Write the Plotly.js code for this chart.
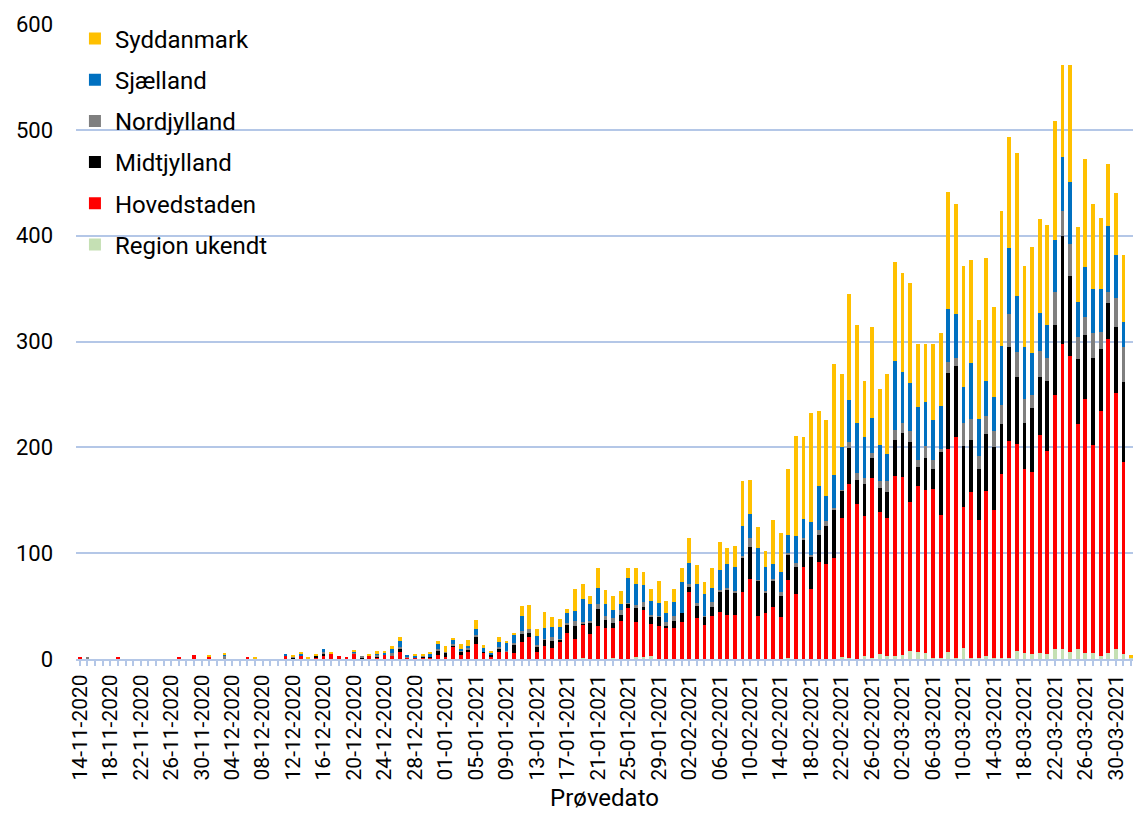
<!DOCTYPE html>
<html>
<head>
<meta charset="utf-8">
<script src="https://cdn.plot.ly/plotly-3.0.1.min.js"></script>
<style>html,body{margin:0;padding:0;background:#fff;}#chart{width:1133px;height:816px;}</style>
</head>
<body>
<div id="chart"></div>
<script>
const dates = [
"14-11-2020","15-11-2020","16-11-2020","17-11-2020","18-11-2020","19-11-2020","20-11-2020","21-11-2020","22-11-2020","23-11-2020",
"24-11-2020","25-11-2020","26-11-2020","27-11-2020","28-11-2020","29-11-2020","30-11-2020",
"01-12-2020","02-12-2020","03-12-2020","04-12-2020","05-12-2020","06-12-2020","07-12-2020","08-12-2020","09-12-2020","10-12-2020",
"11-12-2020","12-12-2020","13-12-2020","14-12-2020","15-12-2020","16-12-2020","17-12-2020","18-12-2020","19-12-2020","20-12-2020",
"21-12-2020","22-12-2020","23-12-2020","24-12-2020","25-12-2020","26-12-2020","27-12-2020","28-12-2020","29-12-2020","30-12-2020","31-12-2020",
"01-01-2021","02-01-2021","03-01-2021","04-01-2021","05-01-2021","06-01-2021","07-01-2021","08-01-2021","09-01-2021","10-01-2021",
"11-01-2021","12-01-2021","13-01-2021","14-01-2021","15-01-2021","16-01-2021","17-01-2021","18-01-2021","19-01-2021","20-01-2021",
"21-01-2021","22-01-2021","23-01-2021","24-01-2021","25-01-2021","26-01-2021","27-01-2021","28-01-2021","29-01-2021","30-01-2021","31-01-2021",
"01-02-2021","02-02-2021","03-02-2021","04-02-2021","05-02-2021","06-02-2021","07-02-2021","08-02-2021","09-02-2021","10-02-2021",
"11-02-2021","12-02-2021","13-02-2021","14-02-2021","15-02-2021","16-02-2021","17-02-2021","18-02-2021","19-02-2021","20-02-2021",
"21-02-2021","22-02-2021","23-02-2021","24-02-2021","25-02-2021","26-02-2021","27-02-2021","28-02-2021",
"01-03-2021","02-03-2021","03-03-2021","04-03-2021","05-03-2021","06-03-2021","07-03-2021","08-03-2021","09-03-2021","10-03-2021",
"11-03-2021","12-03-2021","13-03-2021","14-03-2021","15-03-2021","16-03-2021","17-03-2021","18-03-2021","19-03-2021","20-03-2021",
"21-03-2021","22-03-2021","23-03-2021","24-03-2021","25-03-2021","26-03-2021","27-03-2021","28-03-2021","29-03-2021","30-03-2021","31-03-2021",
"01-04-2021"
];

const tickLabels = [
"14-11-2020","18-11-2020","22-11-2020","26-11-2020","30-11-2020","04-12-2020","08-12-2020","12-12-2020","16-12-2020",
"20-12-2020","24-12-2020","28-12-2020","01-01-2021","05-01-2021","09-01-2021","13-01-2021","17-01-2021","21-01-2021",
"25-01-2021","29-01-2021","02-02-2021","06-02-2021","10-02-2021","14-02-2021","18-02-2021","22-02-2021","26-02-2021",
"02-03-2021","06-03-2021","10-03-2021","14-03-2021","18-03-2021","22-03-2021","26-03-2021","30-03-2021"
];

const regionUkendt = [
0,0,0,0,0,0,0,0,0,0, 0,0,0,0,0,0,0,0,0,0, 0,0,0,0,0,0,0,0,0,0, 0,0,0,0,0,0,0,0,0,0,
0,0,0,0,0,0,0,0,0,0, 0,0,0,0,0,0,0,0,0,0, 0,0,0,0,0,0,1,0,0,0, 1,0,0,2,2,3,0,0,0,0,
0,0,0,0,0,0,0,0,0,0, 0,0,0,1,0,0,0,0,0,0, 2,1,0,3,1,5,3,3,4,8, 7,6,1,1,7,1,10,1,1,3,
1,1,1,8,6,5,6,5,9,9, 7,9,6,6,3,6,9,5,1
];
const hovedstaden = [
1,0,0,0,0,1,0,0,0,0, 0,0,0,1,0,4,0,2,0,0, 0,0,1,0,0,0,0,3,0,3, 0,1,3,5,3,1,5,0,3,1,
4,3,7,1,1,1,1,4,2,11, 4,7,14,6,2,7,7,6,16,21, 7,12,10,16,25,19,31,24,31,29, 28,36,48,33,44,30,31,29,29,35,
63,39,32,41,44,42,42,63,76,41, 43,49,40,74,61,87,66,92,90,95, 131,164,146,132,170,134,130,170,168,140,
156,154,160,135,191,209,134,157,130,156, 140,174,205,195,174,172,206,192,240,289, 279,213,240,196,231,296,242,181,0
];
const midtjylland = [
0,0,0,0,0,0,0,0,0,0, 0,0,0,0,0,0,0,0,0,0, 0,0,0,0,0,0,0,0,1,0, 0,2,2,0,0,0,0,1,0,1,
0,0,3,0,0,1,1,4,4,2, 3,2,7,1,2,3,0,8,8,4, 5,6,7,2,7,12,2,10,16,8, 5,6,4,13,3,7,9,2,7,8,
5,11,8,8,20,23,21,33,30,33, 20,25,20,23,26,26,31,25,36,46, 26,34,23,30,19,23,25,34,42,57,
18,30,19,60,72,67,57,49,49,54, 59,47,89,63,43,60,54,66,67,102, 76,61,60,82,59,34,63,76,0
];
const nordjylland = [
0,1,0,0,0,0,0,0,0,0, 0,0,0,0,0,0,0,0,0,3, 0,0,0,0,0,0,0,0,1,0, 0,0,2,0,0,0,1,1,0,2,
0,3,1,1,0,1,0,1,1,1, 1,1,2,0,0,1,1,1,2,3, 1,1,4,1,2,5,1,2,5,4, 5,4,1,3,5,2,1,4,5,0,
3,3,1,5,1,2,1,1,8,1, 1,2,3,2,4,1,1,5,4,2, 1,6,7,6,5,6,10,9,9,10, 7,11,8,2,11,7,22,20,12,17,
15,18,31,24,23,12,25,21,31,23, 30,21,17,24,16,11,27,33,0
];
const sjaelland = [
0,0,0,0,0,0,0,0,0,0, 0,0,0,0,0,0,0,0,0,1, 0,0,0,0,0,0,0,1,0,2, 0,0,2,0,0,0,1,0,0,1,
2,3,6,2,2,0,3,5,0,4, 1,2,5,3,2,5,8,8,15,0, 9,10,9,11,9,9,22,16,15,11, 7,6,24,20,16,13,12,8,13,30,
20,18,20,13,19,23,23,29,23,30, 23,14,19,17,25,18,31,41,24,31, 40,40,47,39,33,34,26,66,48,46,
50,42,38,41,50,42,34,53,35,33, 33,56,62,53,49,40,36,32,49,51, 59,33,47,42,41,62,41,23,0
];
const syddanmark = [
0,0,0,0,0,0,0,0,0,0, 0,0,0,0,0,0,0,1,0,1, 0,0,0,1,0,0,0,0,1,2, 2,1,0,2,0,0,1,0,1,3,
2,3,4,0,1,1,1,3,5,1, 5,6,9,3,1,5,1,2,9,23, 6,15,10,8,4,21,14,8,19,13, 14,12,9,15,12,11,21,12,12,13,
23,18,12,19,27,15,20,42,32,20, 15,41,37,63,95,78,103,71,72,105, 69,100,93,53,86,53,75,93,94,94,
60,55,72,69,110,104,114,97,93,116, 85,127,105,135,76,100,89,94,112,87, 110,71,102,80,67,59,58,64,3
];

const seriesNames = ["Region ukendt","Hovedstaden","Midtjylland","Nordjylland","Sjælland","Syddanmark"];
const seriesValues = [regionUkendt, hovedstaden, midtjylland, nordjylland, sjaelland, syddanmark];
const seriesColors = ["#C5E0B4","#FF0000","#000000","#7F7F7F","#0070C0","#FFC000"];

const traces = seriesNames.map((name, k) => ({
  type: 'bar',
  name: name,
  x: dates,
  y: seriesValues[k],
  legendgroup: 'g' + k,
  legendrank: 1000 - k,
  marker: {color: seriesColors[k], line: {width: 0}},
  hoverinfo: 'x+y+name'
}));

const ticktext = dates.map(d => tickLabels.includes(d) ? d : '');
const gridBlue = '#B4C7E7';

const layout = {
  width: 1133,
  height: 816,
  margin: {l: 76, r: 0, t: 24, b: 157, pad: 0},
  barmode: 'stack',
  bargap: 0.5,
  paper_bgcolor: '#ffffff',
  plot_bgcolor: '#ffffff',
  font: {family: 'Roboto, sans-serif', color: '#000000'},
  showlegend: true,
  legend: {
    x: -0.001, xanchor: 'left', y: 1.012, yanchor: 'top',
    bgcolor: 'rgba(0,0,0,0)',
    font: {size: 24, family: 'Roboto, sans-serif', color: '#000000'},
    traceorder: 'grouped',
    tracegroupgap: 7
  },
  xaxis: {
    type: 'category',
    range: [-0.5, 138.25],
    tickmode: 'array',
    tickvals: dates,
    ticktext: ticktext,
    tickangle: -90,
    tickfont: {size: 21},
    ticks: 'outside',
    ticklen: 5,
    tickwidth: 1.5,
    tickcolor: gridBlue,
    showline: true,
    linecolor: gridBlue,
    linewidth: 2,
    showgrid: false,
    zeroline: false,
    title: {text: 'Prøvedato', font: {size: 24}, standoff: 10}
  },
  yaxis: {
    range: [0, 600],
    tick0: 0,
    dtick: 100,
    showgrid: true,
    gridcolor: gridBlue,
    gridwidth: 2,
    zeroline: false,
    showline: false,
    ticks: '',
    tickfont: {size: 22},
    ticklabelstandoff: 22
  }
};

Plotly.newPlot('chart', traces, layout, {displayModeBar: false, responsive: false});
</script>
</body>
</html>
